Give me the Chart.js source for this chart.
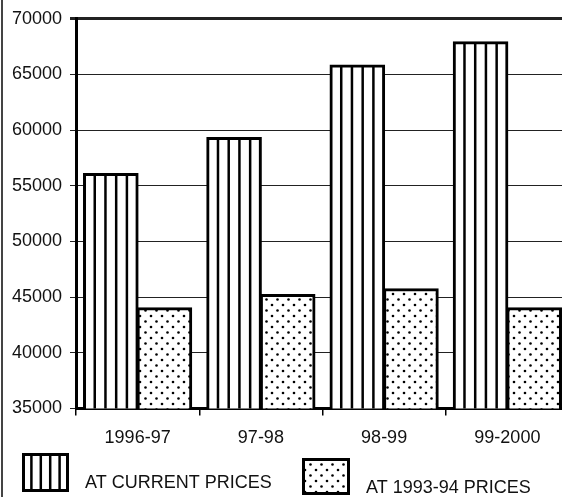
<!DOCTYPE html>
<html>
<head>
<meta charset="utf-8">
<script src="https://cdn.jsdelivr.net/npm/chart.js@4.4.1/dist/chart.umd.min.js"></script>
<style>
  html, body { margin: 0; padding: 0; background: #fff; overflow: hidden; }
  #wrap { position: relative; width: 562px; height: 497px; overflow: hidden; }
  #edge { position: absolute; left: 1px; top: 0; width: 2px; height: 497px; background: #444; }
  canvas { position: absolute; left: 0; top: 0; }
</style>
</head>
<body>
<div id="wrap">
  <canvas id="chart" width="575" height="497"></canvas>
  <div id="edge"></div>
</div>
<script>
// values
const categories = ['1996-97', '97-98', '98-99', '99-2000'];
const currentPrices = [56050, 59300, 65800, 67900];
const constantPrices = [44000, 45200, 45700, 44000];
const seriesLabels = ['AT CURRENT PRICES', 'AT 1993-94 PRICES'];
const yMin = 35000, yMax = 70000, yStep = 5000;

const FONT = '"Liberation Sans", Arial, sans-serif';

// dotted fill for the 1993-94 series
function makeDots() {
    const c = document.createElement('canvas');
    c.width = 11; c.height = 11;
    const g = c.getContext('2d');
    g.fillStyle = '#fff';
    g.fillRect(0, 0, 11, 11);
    g.fillStyle = '#000';
    [[2.5, 2.5], [8, 8]].forEach(([px, py]) => {
        g.beginPath();
        g.arc(px, py, 1.3, 0, Math.PI * 2);
        g.fill();
    });
    return document.getElementById('chart').getContext('2d').createPattern(c, 'repeat');
}
const dots = makeDots();

function stripes(ctx, left, top, w, bottom, n) {
    ctx.save();
    ctx.strokeStyle = '#000';
    ctx.lineWidth = 2.5;
    for (let k = 1; k < n; k++) {
        const lx = left + w * k / n;
        ctx.beginPath();
        ctx.moveTo(lx, top);
        ctx.lineTo(lx, bottom);
        ctx.stroke();
    }
    ctx.restore();
}

// vertical hatching inside the current-price bars
const hatchPlugin = {
    id: 'hatch',
    afterDatasetsDraw(chart) {
        const meta = chart.getDatasetMeta(0);
        const bottom = chart.chartArea.bottom;
        meta.data.forEach(bar => {
            const p = bar.getProps(['x', 'y', 'base', 'width'], true);
            stripes(chart.ctx, p.x - p.width / 2, p.y, p.width, Math.min(p.base, bottom), 5);
        });
    }
};

// legend as in the scan: big swatches under the axis
const legendPlugin = {
    id: 'scanLegend',
    afterDraw(chart) {
        const ctx = chart.ctx;
        const ds = chart.data.datasets;
        ctx.save();
        // swatch 1
        ctx.fillStyle = '#fff';
        ctx.fillRect(22, 453, 47, 39);
        stripes(ctx, 22, 453, 47, 492, 5);
        ctx.lineWidth = 3;
        ctx.strokeStyle = '#000';
        ctx.strokeRect(23.5, 454.5, 44, 36);
        // swatch 2
        ctx.fillStyle = dots;
        ctx.fillRect(302, 458, 48, 37);
        ctx.strokeRect(303.5, 459.5, 45, 34);
        ctx.fillStyle = '#111';
        ctx.font = '18px ' + FONT;
        ctx.textBaseline = 'alphabetic';
        ctx.fillText(ds[0].label, 85, 488);
        ctx.fillText(ds[1].label, 366, 493);
        ctx.restore();
    }
};

new Chart(document.getElementById('chart'), {
    type: 'bar',
    data: {
        labels: categories,
        datasets: [{
            label: seriesLabels[0],
            data: currentPrices,
            backgroundColor: '#fff',
            borderColor: '#000',
            borderWidth: 3,
            borderSkipped: false,
            inflateAmount: 1
        }, {
            label: seriesLabels[1],
            data: constantPrices,
            backgroundColor: dots,
            borderColor: '#000',
            borderWidth: 3,
            borderSkipped: false,
            inflateAmount: 1
        }]
    },
    options: {
        responsive: false,
        animation: false,
        layout: { padding: { top: 16, right: 6, left: 0, bottom: 0 } },
        plugins: {
            legend: { display: false },
            tooltip: { enabled: false }
        },
        datasets: {
            bar: { categoryPercentage: 0.87, barPercentage: 1 }
        },
        scales: {
            x: {
                grid: {
                    offset: true,
                    drawOnChartArea: false,
                    drawTicks: true,
                    tickLength: 7,
                    color: '#000',
                    lineWidth: 1.5
                },
                border: { display: true, color: '#000', width: 3 },
                ticks: {
                    color: '#111',
                    font: { family: FONT, size: 18 },
                    padding: 12
                },
                afterFit(scale) { scale.height = 88.5; }
            },
            y: {
                min: yMin,
                max: yMax,
                grid: {
                    color: '#222',
                    lineWidth: ctx => (ctx.tick && ctx.tick.value === yMax ? 3 : 1),
                    tickLength: 6
                },
                border: { display: true, color: '#000', width: 3 },
                ticks: {
                    stepSize: yStep,
                    color: '#111',
                    font: { family: FONT, size: 18 },
                    padding: 8,
                    callback: v => String(v)
                },
                afterFit(scale) { scale.width = 76; }
            }
        }
    },
    plugins: [hatchPlugin, legendPlugin]
});
</script>
</body>
</html>
